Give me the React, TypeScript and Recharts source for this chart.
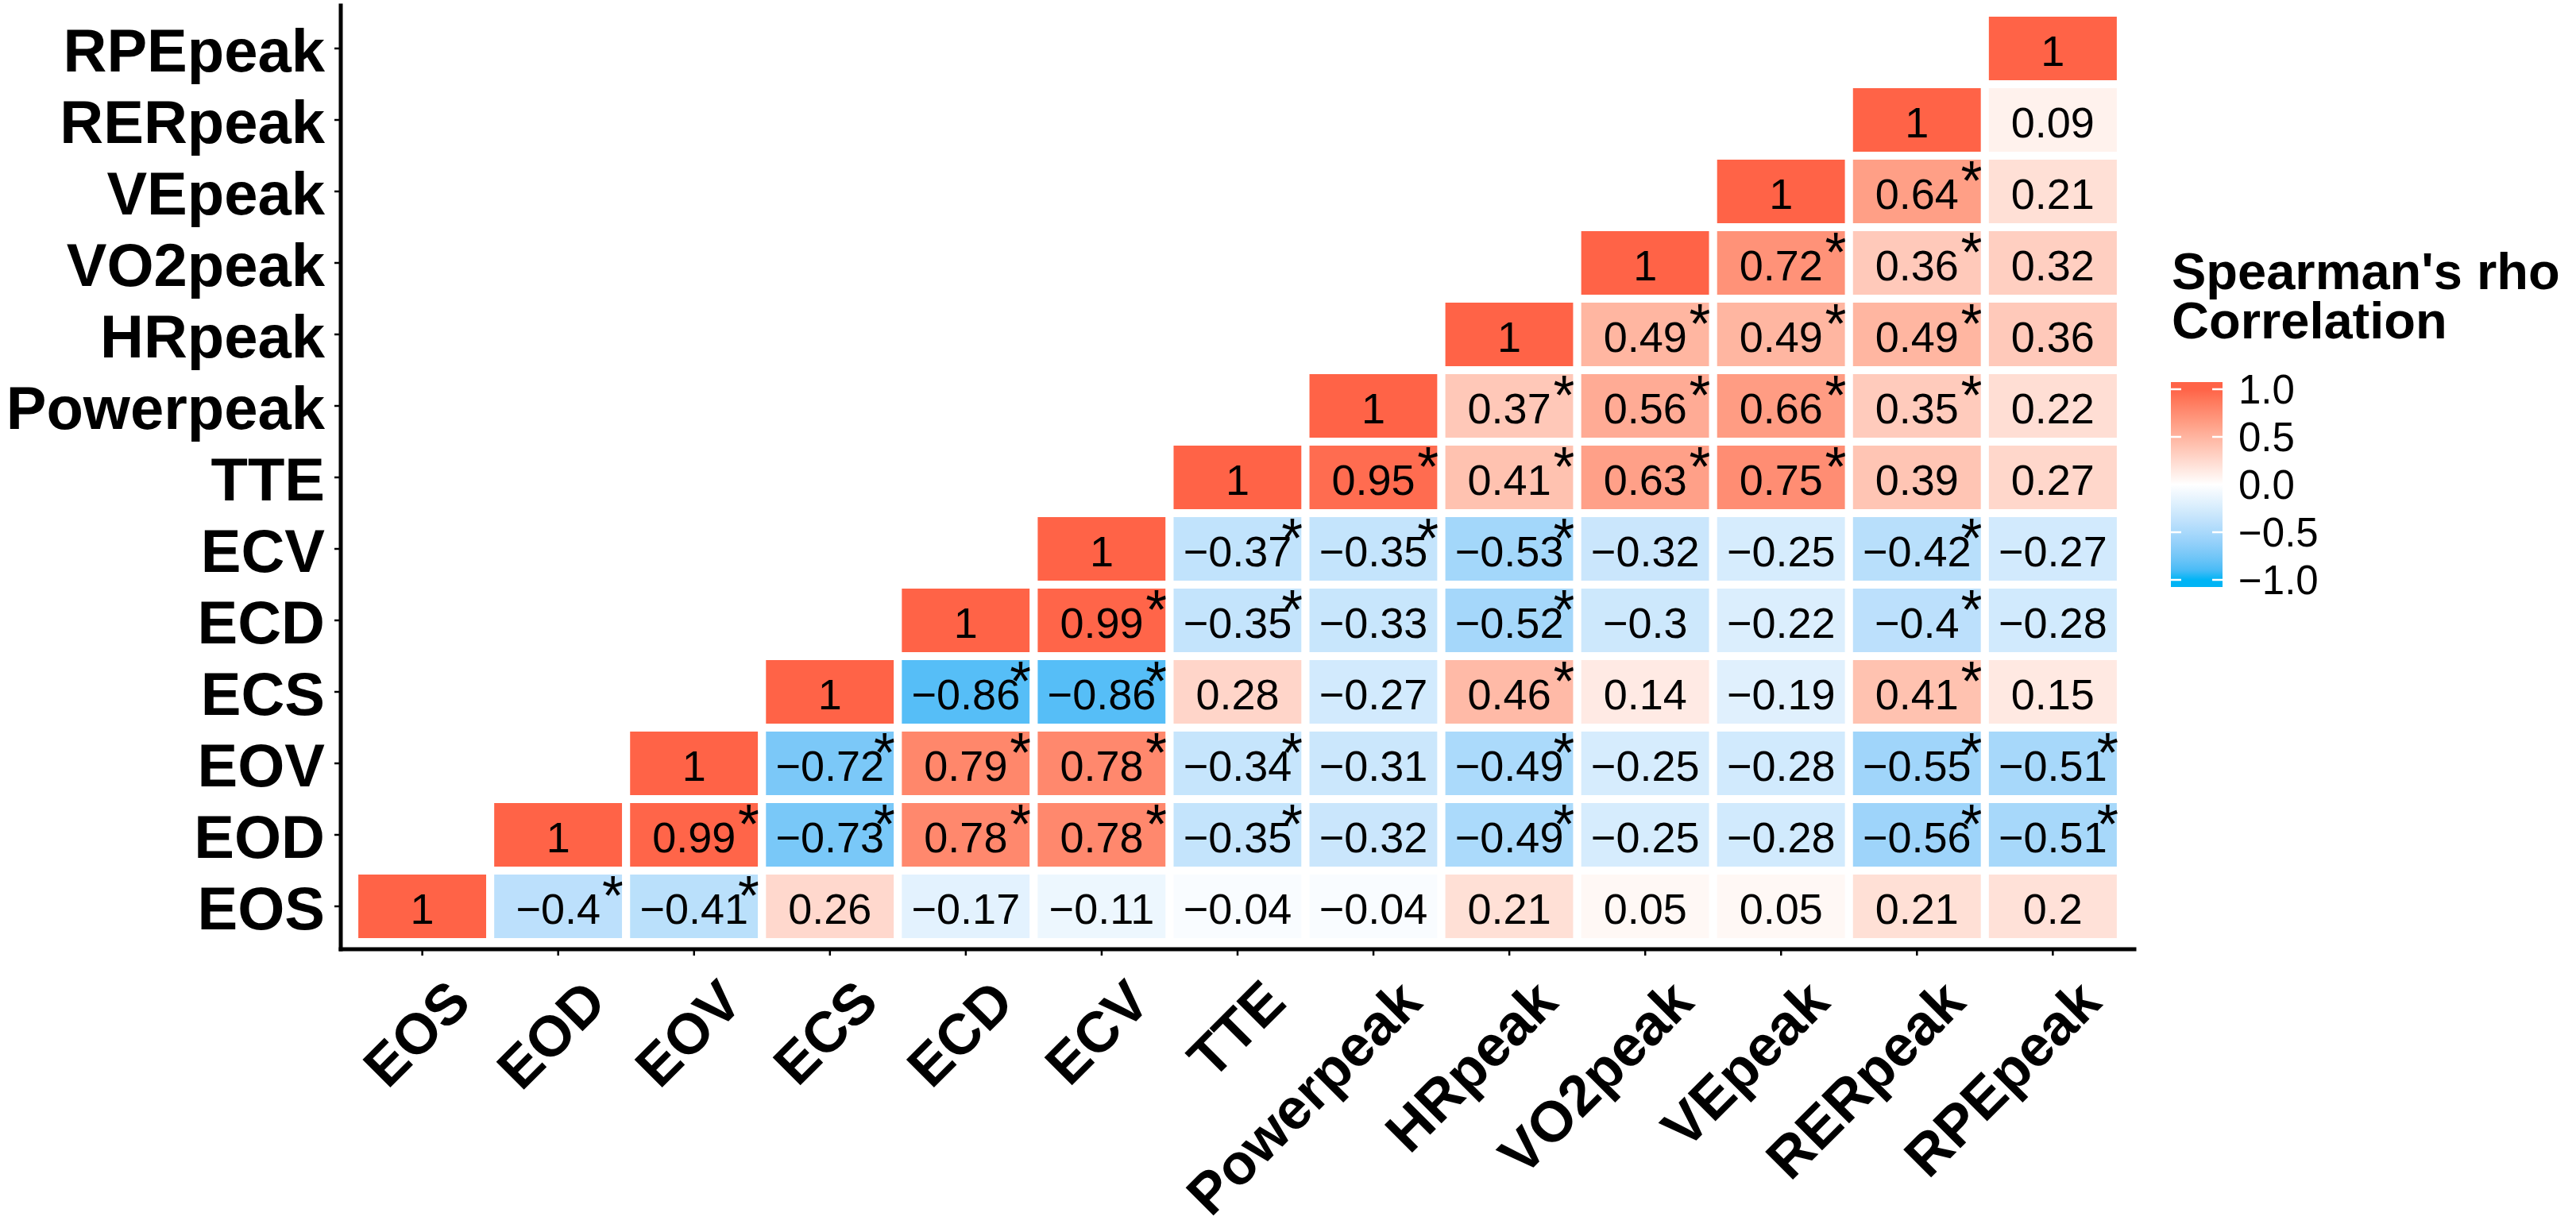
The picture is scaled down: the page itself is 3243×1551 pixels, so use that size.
import React from 'react';
import { Legend, Scatter, ScatterChart, XAxis, YAxis } from 'recharts';

// variables, in axis order (x left->right, y bottom->top)
const variables = [
  'EOS', 'EOD', 'EOV', 'ECS', 'ECD', 'ECV', 'TTE',
  'Powerpeak', 'HRpeak', 'VO2peak', 'VEpeak', 'RERpeak', 'RPEpeak',
];

// Spearman's rho per row, starting at the diagonal and going right
const rhoEOS = [1, -0.4, -0.41, 0.26, -0.17, -0.11, -0.04, -0.04, 0.21, 0.05, 0.05, 0.21, 0.2];
const rhoEOD = [1, 0.99, -0.73, 0.78, 0.78, -0.35, -0.32, -0.49, -0.25, -0.28, -0.56, -0.51];
const rhoEOV = [1, -0.72, 0.79, 0.78, -0.34, -0.31, -0.49, -0.25, -0.28, -0.55, -0.51];
const rhoECS = [1, -0.86, -0.86, 0.28, -0.27, 0.46, 0.14, -0.19, 0.41, 0.15];
const rhoECD = [1, 0.99, -0.35, -0.33, -0.52, -0.3, -0.22, -0.4, -0.28];
const rhoECV = [1, -0.37, -0.35, -0.53, -0.32, -0.25, -0.42, -0.27];
const rhoTTE = [1, 0.95, 0.41, 0.63, 0.75, 0.39, 0.27];
const rhoPower = [1, 0.37, 0.56, 0.66, 0.35, 0.22];
const rhoHR = [1, 0.49, 0.49, 0.49, 0.36];
const rhoVO2 = [1, 0.72, 0.36, 0.32];
const rhoVE = [1, 0.64, 0.21];
const rhoRER = [1, 0.09];
const rhoRPE = [1];

// significance marks (1 = asterisk), same layout as above
const sigEOS = [0, 1, 1, 0, 0, 0, 0, 0, 0, 0, 0, 0, 0];
const sigEOD = [0, 1, 1, 1, 1, 1, 0, 1, 0, 0, 1, 1];
const sigEOV = [0, 1, 1, 1, 1, 0, 1, 0, 0, 1, 1];
const sigECS = [0, 1, 1, 0, 0, 1, 0, 0, 1, 0];
const sigECD = [0, 1, 1, 0, 1, 0, 0, 1, 0];
const sigECV = [0, 1, 1, 1, 0, 0, 1, 0];
const sigTTE = [0, 1, 1, 1, 1, 0, 0];
const sigPower = [0, 1, 1, 1, 1, 0];
const sigHR = [0, 1, 1, 1, 0];
const sigVO2 = [0, 1, 1, 0];
const sigVE = [0, 1, 0];
const sigRER = [0, 0];
const sigRPE = [0];

const rhoRows = [rhoEOS, rhoEOD, rhoEOV, rhoECS, rhoECD, rhoECV, rhoTTE, rhoPower, rhoHR, rhoVO2, rhoVE, rhoRER, rhoRPE];
const sigRows = [sigEOS, sigEOD, sigEOV, sigECS, sigECD, sigECV, sigTTE, sigPower, sigHR, sigVO2, sigVE, sigRER, sigRPE];

const legendBreaks = [1, 0.5, 0, -0.5, -1];
const legendLabels = ['1.0', '0.5', '0.0', '\u22120.5', '\u22121.0'];

const cells = rhoRows.flatMap((row, r) =>
  row.map((rho, i) => ({ x: r + i, y: r, rho, sig: sigRows[r][i] === 1 })),
);
const positions = variables.map((_, i) => i);

// layout
const CHART_W = 3243;
const CHART_H = 1551;
const MARGIN = { top: 7, right: 556, bottom: 0, left: 0 };
const Y_AXIS_W = 429;
const X_AXIS_H = 356;
const PAD = 0.6;
const SPAN = variables.length - 1 + 2 * PAD;
const STEP_X = (CHART_W - MARGIN.left - MARGIN.right - Y_AXIS_W) / SPAN;
const STEP_Y = (CHART_H - MARGIN.top - MARGIN.bottom - X_AXIS_H) / SPAN;

const FONT = '"Liberation Sans", Arial, Helvetica, sans-serif';

// colour scale: white mid, interpolated in Lab like ggplot's gradient2
const LOW = '#00B4F5';
const MID = '#FFFFFF';
const HIGH = '#FF6347';

const toLin = (c: number) => (c <= 0.04045 ? c / 12.92 : Math.pow((c + 0.055) / 1.055, 2.4));
const fromLin = (c: number) => (c <= 0.0031308 ? 12.92 * c : 1.055 * Math.pow(c, 1 / 2.4) - 0.055);
const f = (t: number) => (t > 0.008856 ? Math.cbrt(t) : 7.787 * t + 16 / 116);
const finv = (t: number) => (t * t * t > 0.008856 ? t * t * t : (t - 16 / 116) / 7.787);

function hexToLab(hex: string) {
  const n = parseInt(hex.slice(1), 16);
  const r = toLin(((n >> 16) & 255) / 255);
  const g = toLin(((n >> 8) & 255) / 255);
  const b = toLin((n & 255) / 255);
  const X = (0.4124 * r + 0.3576 * g + 0.1805 * b) / 0.95047;
  const Y = 0.2126 * r + 0.7152 * g + 0.0722 * b;
  const Z = (0.0193 * r + 0.1192 * g + 0.9505 * b) / 1.08883;
  return [116 * f(Y) - 16, 500 * (f(X) - f(Y)), 200 * (f(Y) - f(Z))];
}

function labToHex([L, a, bb]: number[]) {
  const fy = (L + 16) / 116;
  const X = 0.95047 * finv(fy + a / 500);
  const Y = finv(fy);
  const Z = 1.08883 * finv(fy - bb / 200);
  const rgb = [
    3.2406 * X - 1.5372 * Y - 0.4986 * Z,
    -0.9689 * X + 1.8758 * Y + 0.0415 * Z,
    0.0557 * X - 0.204 * Y + 1.057 * Z,
  ];
  return (
    '#' +
    rgb
      .map((c) => Math.round(Math.min(1, Math.max(0, fromLin(c))) * 255).toString(16).padStart(2, '0'))
      .join('')
  );
}

const lowLab = hexToLab(LOW);
const midLab = hexToLab(MID);
const highLab = hexToLab(HIGH);

function fillFor(v: number) {
  const end = v < 0 ? lowLab : highLab;
  const t = Math.min(1, Math.abs(v));
  return labToHex(midLab.map((m, i) => m + (end[i] - m) * t));
}

const fmt = (v: number) => String(v).replace('-', '\u2212');

const HeatCell = (props: any) => {
  const { cx, cy, payload } = props;
  if (cx == null || cy == null) return null;
  return (
    <g>
      <rect
        x={cx - STEP_X / 2}
        y={cy - STEP_Y / 2}
        width={STEP_X}
        height={STEP_Y}
        fill={fillFor(payload.rho)}
        stroke="#ffffff"
        strokeWidth={10}
      />
      <text x={cx} y={cy + 22} textAnchor="middle" fontSize={54} fontFamily={FONT} fill="#000">
        {fmt(payload.rho)}
      </text>
      {payload.sig && (
        <text x={cx + STEP_X / 2 - 3} y={cy + 11} textAnchor="end" fontSize={70} fontFamily={FONT} fill="#000">
          *
        </text>
      )}
    </g>
  );
};

const XTick = (props: any) => {
  const { x, y, payload } = props;
  const ax = x + 64;
  const ay = y + 62;
  return (
    <text
      x={ax}
      y={ay}
      transform={`rotate(-45, ${ax}, ${ay})`}
      textAnchor="end"
      fontSize={72}
      fontWeight="bold"
      fontFamily={FONT}
      fill="#000"
    >
      {variables[payload.value]}
    </text>
  );
};

const YTick = (props: any) => {
  const { x, y, payload } = props;
  return (
    <text x={x} y={y + 29} textAnchor="end" fontSize={76} fontWeight="bold" fontFamily={FONT} fill="#000">
      {variables[payload.value]}
    </text>
  );
};

// legend box, in page pixels
const LEG_LEFT = 2700;
const LEG_TOP = 280;
const BAR_X = 2733;
const BAR_W = 65;
const TICK_TOP = 490; // position of 1.0
const TICK_BOTTOM = 730; // position of -1.0
const BAR_TOP = 481;
const BAR_BOTTOM = 739;

const ColourBar = () => {
  const stops = Array.from({ length: 21 }, (_, i) => 1 - i * 0.1);
  const yFor = (v: number) => TICK_TOP + ((1 - v) / 2) * (TICK_BOTTOM - TICK_TOP) - LEG_TOP;
  const bx = BAR_X - LEG_LEFT;
  return (
    <svg width={CHART_W - LEG_LEFT} height={500} style={{ overflow: 'visible' }}>
      <defs>
        <linearGradient id="rhoGrad" x1="0" y1={BAR_TOP - LEG_TOP} x2="0" y2={BAR_BOTTOM - LEG_TOP} gradientUnits="userSpaceOnUse">
          {stops.map((v) => (
            <stop
              key={v}
              offset={(yFor(v) - (BAR_TOP - LEG_TOP)) / (BAR_BOTTOM - BAR_TOP)}
              stopColor={fillFor(v)}
            />
          ))}
        </linearGradient>
      </defs>
      <text x={34} y={364 - LEG_TOP} fontSize={65} fontWeight="bold" fontFamily={FONT} fill="#000">
        Spearman's rho
      </text>
      <text x={34} y={426 - LEG_TOP} fontSize={65} fontWeight="bold" fontFamily={FONT} fill="#000">
        Correlation
      </text>
      <rect x={bx} y={BAR_TOP - LEG_TOP} width={BAR_W} height={BAR_BOTTOM - BAR_TOP} fill="url(#rhoGrad)" />
      {legendBreaks.map((v, i) => (
        <g key={v}>
          <line x1={bx} x2={bx + 13} y1={yFor(v)} y2={yFor(v)} stroke="#fff" strokeWidth={2.5} />
          <line x1={bx + BAR_W - 13} x2={bx + BAR_W} y1={yFor(v)} y2={yFor(v)} stroke="#fff" strokeWidth={2.5} />
          <text x={118} y={yFor(v) + 18} fontSize={51} fontFamily={FONT} fill="#000">
            {legendLabels[i]}
          </text>
        </g>
      ))}
    </svg>
  );
};

export default function App() {
  return (
    <div style={{ position: 'absolute', left: 0, top: 0, width: CHART_W, height: CHART_H, background: '#fff' }}>
      <ScatterChart width={CHART_W} height={CHART_H} margin={MARGIN}>
        <XAxis
          type="number"
          dataKey="x"
          domain={[-PAD, variables.length - 1 + PAD]}
          ticks={positions}
          interval={0}
          allowDataOverflow
          height={X_AXIS_H}
          axisLine={{ stroke: '#000', strokeWidth: 5, strokeLinecap: 'square' }}
          tickLine={{ stroke: '#000', strokeWidth: 2.5 }}
          tickSize={8}
          tickMargin={0}
          tick={<XTick />}
        />
        <YAxis
          type="number"
          dataKey="y"
          domain={[-PAD, variables.length - 1 + PAD]}
          ticks={positions}
          interval={0}
          allowDataOverflow
          width={Y_AXIS_W}
          axisLine={{ stroke: '#000', strokeWidth: 5, strokeLinecap: 'square' }}
          tickLine={{ stroke: '#000', strokeWidth: 2.5 }}
          tickSize={8}
          tickMargin={12}
          tick={<YTick />}
        />
        <Scatter data={cells} shape={<HeatCell />} isAnimationActive={false} />
        <Legend
          layout="horizontal"
          verticalAlign="middle"
          align="center"
          wrapperStyle={{ position: 'absolute', left: LEG_LEFT, top: LEG_TOP, width: CHART_W - LEG_LEFT, height: 500 }}
          content={() => <ColourBar />}
        />
      </ScatterChart>
    </div>
  );
}
